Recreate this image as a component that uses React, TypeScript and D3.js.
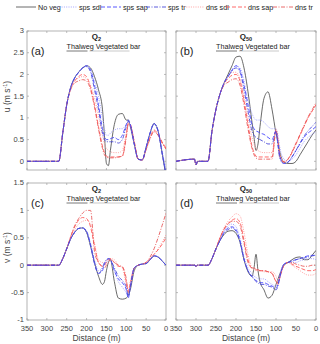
import React from "react";
import * as d3 from "d3";

const distances = [350, 304, 300, 296, 270, 260, 250, 240, 230, 220, 210, 200, 190, 180, 170, 160, 155, 150, 145, 140, 130, 120, 110, 100, 95, 90, 80, 70, 60, 50, 40, 30, 20, 10, 0];

const seriesNames = ["No veg", "sps sdl", "sps sap", "sps tr", "dns sdl", "dns sap", "dns tr"];
const xTicks = [350, 300, 250, 200, 150, 100, 50, 0];
const uTicks = [0, 0.5, 1, 1.5, 2, 2.5, 3];
const vTicks = [-1, -0.5, 0, 0.5, 1, 1.5];

// Panel (a): Q2, u
const aNoVeg = [0, 0, 0, 0, 0, 0.65, 1.3, 1.7, 1.92, 2.05, 2.15, 2.2, 2.15, 1.95, 1.65, 1.2, 0.6, -0.05, -0.1, 0.25, 0.85, 1.08, 1.1, 0.95, 0.95, 0.8, 0.4, 0.05, 0.03, 0.32, 0.65, 0.87, 0.7, 0.2, -0.35];
const aSpsSdl = [0, 0, 0, 0, 0, 0.65, 1.3, 1.7, 1.92, 2.05, 2.15, 2.2, 2.12, 1.85, 1.5, 1.0, 0.75, 0.6, 0.6, 0.65, 0.72, 0.75, 0.75, 0.85, 0.92, 0.82, 0.4, 0.05, 0.03, 0.32, 0.65, 0.85, 0.7, 0.25, -0.2];
const aSpsSap = [0, 0, 0, 0, 0, 0.65, 1.3, 1.7, 1.92, 2.05, 2.15, 2.2, 2.1, 1.75, 1.3, 0.75, 0.58, 0.5, 0.5, 0.52, 0.55, 0.5, 0.6, 0.85, 0.95, 0.85, 0.4, 0.05, 0.03, 0.33, 0.66, 0.87, 0.7, 0.2, -0.3];
const aSpsTr = [0, 0, 0, 0, 0, 0.65, 1.3, 1.7, 1.92, 2.05, 2.15, 2.18, 2.05, 1.65, 1.2, 0.65, 0.5, 0.45, 0.45, 0.45, 0.45, 0.42, 0.5, 0.8, 0.92, 0.85, 0.4, 0.05, 0.03, 0.32, 0.65, 0.86, 0.7, 0.2, -0.3];
const aDnsSdl = [0, 0, 0, 0, 0, 0.65, 1.3, 1.68, 1.85, 1.92, 1.95, 1.9, 1.75, 1.45, 1.05, 0.6, 0.4, 0.3, 0.25, 0.22, 0.2, 0.2, 0.25, 0.65, 0.85, 0.85, 0.45, 0.05, 0.03, 0.28, 0.55, 0.7, 0.6, 0.45, 0.3];
const aDnsSap = [0, 0, 0, 0, 0, 0.65, 1.3, 1.68, 1.85, 1.95, 2.0, 1.95, 1.7, 1.3, 0.8, 0.35, 0.2, 0.12, 0.1, 0.1, 0.1, 0.1, 0.12, 0.6, 0.88, 0.85, 0.45, 0.05, 0.03, 0.28, 0.55, 0.72, 0.62, 0.45, 0.3];
const aDnsTr = [0, 0, 0, 0, 0, 0.65, 1.3, 1.65, 1.8, 1.85, 1.88, 1.85, 1.65, 1.25, 0.75, 0.3, 0.15, 0.1, 0.08, 0.08, 0.08, 0.1, 0.12, 0.55, 0.85, 0.82, 0.45, 0.05, 0.03, 0.27, 0.52, 0.68, 0.6, 0.42, 0.28];

// Panel (b): Q50, u
const bNoVeg = [0, 0.05, -0.08, 0, 0, 0.7, 1.2, 1.55, 1.8, 2.0, 2.2, 2.4, 2.42, 2.15, 1.6, 0.9, 0.55, 0.25, 0.4, 0.8, 1.45, 1.6, 1.2, 0.65, 0.45, 0.2, -0.02, -0.05, -0.05, 0.0, 0.15, 0.3, 0.45, 0.6, 0.72];
const bSpsSdl = [0, 0.05, -0.08, 0, 0, 0.7, 1.2, 1.55, 1.8, 1.95, 2.1, 2.2, 2.15, 1.85, 1.4, 1.1, 1.0, 0.95, 0.95, 0.95, 0.9, 0.8, 0.75, 0.75, 0.6, 0.3, 0.05, 0.0, 0.05, 0.15, 0.3, 0.45, 0.55, 0.62, 0.68];
const bSpsSap = [0, 0.05, -0.08, 0, 0, 0.7, 1.2, 1.55, 1.8, 1.95, 2.1, 2.2, 2.1, 1.75, 1.3, 0.85, 0.75, 0.7, 0.68, 0.65, 0.62, 0.55, 0.5, 0.7, 0.4, 0.1, -0.05, -0.02, 0.1, 0.25, 0.4, 0.55, 0.65, 0.72, 0.8];
const bSpsTr = [0, 0.05, -0.08, 0, 0, 0.7, 1.2, 1.55, 1.8, 1.95, 2.08, 2.15, 2.05, 1.65, 1.15, 0.7, 0.6, 0.55, 0.52, 0.5, 0.45, 0.4, 0.4, 0.68, 0.35, 0.05, -0.05, -0.02, 0.1, 0.25, 0.42, 0.58, 0.7, 0.8, 0.9];
const bDnsSdl = [0, 0.05, -0.08, 0, 0, 0.7, 1.2, 1.55, 1.8, 1.95, 2.05, 2.05, 1.9, 1.5, 1.0, 0.55, 0.4, 0.3, 0.25, 0.22, 0.2, 0.2, 0.2, 0.75, 0.5, 0.15, 0.0, 0.05, 0.2, 0.4, 0.6, 0.8, 1.0, 1.15, 1.3];
const bDnsSap = [0, 0.05, -0.08, 0, 0, 0.7, 1.2, 1.55, 1.78, 1.9, 1.98, 2.0, 1.85, 1.4, 0.85, 0.35, 0.2, 0.12, 0.1, 0.1, 0.1, 0.1, 0.1, 0.72, 0.45, 0.1, -0.02, 0.05, 0.2, 0.4, 0.6, 0.8, 1.0, 1.15, 1.3];
const bDnsTr = [0, 0.05, -0.08, 0, 0, 0.7, 1.2, 1.55, 1.75, 1.82, 1.88, 1.9, 1.75, 1.3, 0.75, 0.3, 0.15, 0.08, 0.05, 0.05, 0.05, 0.05, 0.05, 0.7, 0.45, 0.1, -0.02, 0.05, 0.22, 0.42, 0.62, 0.82, 1.02, 1.18, 1.35];

// Panel (c): Q2, v
const cNoVeg = [0, 0, 0, 0, 0, 0.12, 0.3, 0.48, 0.6, 0.67, 0.68, 0.6, 0.35, 0.05, -0.2, -0.35, -0.3, -0.1, 0.05, 0.1, -0.3, -0.6, -0.62, -0.6, -0.55, -0.45, -0.1, 0.0, 0.02, 0.03, 0.1, 0.17, 0.15, 0.08, 0.0];
const cSpsSdl = [0, 0, 0, 0, 0, 0.12, 0.3, 0.48, 0.6, 0.67, 0.68, 0.62, 0.4, 0.1, -0.1, -0.05, 0.0, 0.05, 0.08, 0.1, -0.1, -0.3, -0.4, -0.5, -0.55, -0.35, -0.05, 0.0, 0.02, 0.03, 0.1, 0.17, 0.15, 0.08, 0.0];
const cSpsSap = [0, 0, 0, 0, 0, 0.12, 0.3, 0.48, 0.6, 0.67, 0.68, 0.62, 0.38, 0.05, -0.15, -0.1, 0.02, 0.08, 0.12, 0.1, -0.1, -0.25, -0.32, -0.45, -0.6, -0.4, -0.05, 0.0, 0.02, 0.03, 0.1, 0.17, 0.15, 0.08, 0.0];
const cSpsTr = [0, 0, 0, 0, 0, 0.12, 0.3, 0.48, 0.6, 0.67, 0.68, 0.6, 0.35, 0.02, -0.15, -0.05, 0.05, 0.1, 0.12, 0.1, -0.05, -0.2, -0.28, -0.4, -0.58, -0.42, -0.05, 0.0, 0.02, 0.03, 0.1, 0.17, 0.15, 0.08, 0.0];
const cDnsSdl = [0, 0, 0, 0, 0, 0.12, 0.3, 0.5, 0.65, 0.75, 0.8, 0.82, 0.75, 0.4, 0.1, 0.05, 0.05, 0.08, 0.1, 0.12, 0.1, 0.0, -0.05, -0.35, -0.45, -0.3, -0.05, 0.0, 0.02, 0.05, 0.12, 0.2, 0.3, 0.42, 0.55];
const cDnsSap = [0, 0, 0, 0, 0, 0.12, 0.3, 0.52, 0.7, 0.82, 0.87, 0.85, 0.7, 0.35, 0.05, -0.02, 0.0, 0.05, 0.1, 0.12, 0.05, -0.02, -0.03, -0.3, -0.48, -0.35, -0.05, 0.0, 0.02, 0.05, 0.12, 0.2, 0.28, 0.38, 0.5];
const cDnsTr = [0, 0, 0, 0, 0, 0.12, 0.3, 0.52, 0.72, 0.85, 0.95, 1.0, 1.0, 0.25, 0.05, -0.02, -0.05, 0.0, 0.05, 0.1, 0.05, 0.0, -0.03, -0.25, -0.5, -0.38, -0.05, 0.0, 0.02, 0.05, 0.15, 0.3, 0.5, 0.72, 0.95];

// Panel (d): Q50, v
const dNoVeg = [0, 0, -0.02, 0, 0, 0.12, 0.3, 0.45, 0.56, 0.62, 0.63, 0.58, 0.42, 0.1, -0.12, -0.2, -0.05, 0.2, -0.1, -0.3, -0.45, -0.6, -0.55, -0.35, -0.25, -0.15, 0.0, 0.05, 0.1, 0.14, 0.15, 0.1, 0.1, 0.18, 0.27];
const dSpsSdl = [0, 0, -0.02, 0, 0, 0.12, 0.3, 0.48, 0.62, 0.72, 0.75, 0.7, 0.5, 0.15, -0.05, -0.15, -0.2, -0.22, -0.25, -0.25, -0.25, -0.3, -0.35, -0.38, -0.3, -0.15, 0.02, 0.05, 0.05, 0.05, 0.08, 0.1, 0.12, 0.12, 0.1];
const dSpsSap = [0, 0, -0.02, 0, 0, 0.12, 0.3, 0.45, 0.6, 0.68, 0.7, 0.65, 0.45, 0.12, -0.1, -0.2, -0.25, -0.28, -0.3, -0.32, -0.32, -0.35, -0.38, -0.42, -0.35, -0.2, 0.02, 0.05, 0.08, 0.1, 0.12, 0.15, 0.17, 0.18, 0.18];
const dSpsTr = [0, 0, -0.02, 0, 0, 0.12, 0.3, 0.45, 0.58, 0.65, 0.68, 0.62, 0.42, 0.1, -0.1, -0.22, -0.25, -0.3, -0.32, -0.35, -0.35, -0.38, -0.4, -0.45, -0.38, -0.2, 0.02, 0.05, 0.07, 0.1, 0.12, 0.13, 0.15, 0.17, 0.18];
const dDnsSdl = [0, 0, -0.02, 0, 0, 0.12, 0.3, 0.5, 0.68, 0.8, 0.88, 0.94, 0.9, 0.6, 0.2, -0.05, -0.08, -0.1, -0.1, -0.1, -0.12, -0.12, -0.12, -0.2, -0.3, -0.2, 0.0, 0.05, 0.0, -0.05, -0.1, -0.15, -0.18, -0.18, -0.15];
const dDnsSap = [0, 0, -0.02, 0, 0, 0.12, 0.3, 0.5, 0.66, 0.76, 0.82, 0.85, 0.78, 0.45, 0.1, -0.05, -0.05, -0.08, -0.1, -0.1, -0.1, -0.12, -0.15, -0.3, -0.35, -0.22, 0.0, 0.05, 0.02, -0.02, -0.05, -0.08, -0.1, -0.1, -0.08];
const dDnsTr = [0, 0, -0.02, 0, 0, 0.12, 0.3, 0.5, 0.65, 0.75, 0.8, 0.8, 0.72, 0.4, 0.05, -0.05, -0.05, -0.08, -0.08, -0.1, -0.1, -0.12, -0.15, -0.3, -0.32, -0.2, 0.0, 0.05, 0.05, 0.02, 0.0, -0.02, -0.02, 0.0, 0.0];

const styles = [
  { color: "#444444", dash: "none", width: 0.8 },
  { color: "#9a9aff", dash: "1,1.3", width: 0.9 },
  { color: "#4646ff", dash: "4,2", width: 0.9 },
  { color: "#4a4ad8", dash: "4,1.5,1,1.5", width: 0.9 },
  { color: "#ff9a9a", dash: "1,1.3", width: 0.9 },
  { color: "#ff5a5a", dash: "4,2", width: 0.9 },
  { color: "#e85a5a", dash: "4,1.5,1,1.5", width: 0.9 },
];

const panels = [
  { id: "a", x0: 27, x1: 166, y0: 31, y1: 170, ymin: -0.2, ymax: 3, yTicks: uTicks, yLab: true, xLab: false, sub: "2", label: "(a)", series: [aNoVeg, aSpsSdl, aSpsSap, aSpsTr, aDnsSdl, aDnsSap, aDnsTr] },
  { id: "b", x0: 176, x1: 316, y0: 31, y1: 170, ymin: -0.2, ymax: 3, yTicks: uTicks, yLab: false, xLab: false, sub: "50", label: "(b)", series: [bNoVeg, bSpsSdl, bSpsSap, bSpsTr, bDnsSdl, bDnsSap, bDnsTr] },
  { id: "c", x0: 27, x1: 166, y0: 183, y1: 320, ymin: -1, ymax: 1.5, yTicks: vTicks, yLab: true, xLab: true, sub: "2", label: "(c)", series: [cNoVeg, cSpsSdl, cSpsSap, cSpsTr, cDnsSdl, cDnsSap, cDnsTr] },
  { id: "d", x0: 176, x1: 316, y0: 183, y1: 320, ymin: -1, ymax: 1.5, yTicks: vTicks, yLab: false, xLab: true, sub: "50", label: "(d)", series: [dNoVeg, dSpsSdl, dSpsSap, dSpsTr, dDnsSdl, dDnsSap, dDnsTr] },
];

const FONT = "'Liberation Sans', Arial, sans-serif";
const AX = "#a0a0a0";
const TXT = "#444";

function Panel({ p }: { p: any }) {
  const x = d3.scaleLinear().domain([350, 0]).range([p.x0, p.x1]);
  const y = d3.scaleLinear().domain([p.ymin, p.ymax]).range([p.y1, p.y0]);
  const line = d3
    .line<number>()
    .x((_, i) => x(distances[i]))
    .y((v) => y(v))
    .curve(d3.curveMonotoneX);
  const cx = (p.x0 + p.x1) / 2;
  const clipId = "clip-" + p.id;
  const order = [0, 1, 4, 5, 6, 2, 3];
  return (
    <g>
      <defs>
        <clipPath id={clipId}>
          <rect x={p.x0} y={p.y0} width={p.x1 - p.x0} height={p.y1 - p.y0} />
        </clipPath>
      </defs>
      <rect x={p.x0} y={p.y0} width={p.x1 - p.x0} height={p.y1 - p.y0} fill="#fff" stroke={AX} strokeWidth={0.8} />
      {xTicks.map((t) => (
        <g key={"xt" + t}>
          <line x1={x(t)} x2={x(t)} y1={p.y1} y2={p.y1 - 2} stroke={AX} strokeWidth={0.7} />
          <line x1={x(t)} x2={x(t)} y1={p.y0} y2={p.y0 + 2} stroke={AX} strokeWidth={0.7} />
          {p.xLab && (
            <text x={x(t)} y={p.y1 + 10.5} fontSize={7.5} textAnchor="middle" fill={TXT} fontFamily={FONT}>
              {t}
            </text>
          )}
        </g>
      ))}
      {p.yTicks.map((t: number) => (
        <g key={"yt" + t}>
          <line x1={p.x0} x2={p.x0 + 2} y1={y(t)} y2={y(t)} stroke={AX} strokeWidth={0.7} />
          <line x1={p.x1} x2={p.x1 - 2} y1={y(t)} y2={y(t)} stroke={AX} strokeWidth={0.7} />
          {p.yLab && (
            <text x={p.x0 - 3} y={y(t) + 2.4} fontSize={7.5} textAnchor="end" fill={TXT} fontFamily={FONT}>
              {t}
            </text>
          )}
        </g>
      ))}
      <g clipPath={`url(#${clipId})`}>
        {order.map((k) => (
          <path
            key={k}
            d={line(p.series[k]) || ""}
            fill="none"
            stroke={styles[k].color}
            strokeWidth={styles[k].width}
            strokeDasharray={styles[k].dash}
          />
        ))}
      </g>
      <text x={p.x0 + 4} y={p.y0 + 24} fontSize={11} fill="#222" fontFamily={FONT}>
        {p.label}
      </text>
      <text x={cx} y={p.y0 + 8} fontSize={8} fontWeight="bold" textAnchor="middle" fill="#222" fontFamily={FONT}>
        Q<tspan fontSize={5.5} dy={2}>{p.sub}</tspan>
      </text>
      <text x={cx - 30} y={p.y0 + 17.5} fontSize={7.2} fill="#222" fontFamily={FONT}>
        Thalweg Vegetated bar
      </text>
      <line x1={cx - 30} x2={cx - 9} y1={p.y0 + 20} y2={p.y0 + 20} stroke="#555" strokeWidth={0.8} />
      <line x1={cx - 7} x2={cx + 33} y1={p.y0 + 20} y2={p.y0 + 20} stroke="#bbb" strokeWidth={0.8} />
      {p.xLab && (
        <text x={cx} y={p.y1 + 20.5} fontSize={8.5} textAnchor="middle" fill={TXT} fontFamily={FONT}>
          Distance (m)
        </text>
      )}
      {p.yLab && (
        <text
          transform={`translate(${p.x0 - 17},${(p.y0 + p.y1) / 2 - 4}) rotate(-90)`}
          fontSize={8.5}
          textAnchor="middle"
          fill={TXT}
          fontFamily={FONT}
        >
          {p.id === "a" || p.id === "b" ? "u" : "v"} (m s<tspan fontSize={5.5} dy={-3}>-1</tspan>
          <tspan dy={3}>)</tspan>
        </text>
      )}
    </g>
  );
}

const legendX = [16, 57, 101, 146, 184, 226, 273];

export default function App() {
  return (
    <svg width={320} height={344} style={{ position: "absolute", left: 0, top: 0, background: "#fff" }}>
      <rect width={320} height={344} fill="#fff" />
      {seriesNames.map((n, i) => (
        <g key={n}>
          <line
            x1={legendX[i]}
            x2={legendX[i] + 20}
            y1={7}
            y2={7}
            stroke={styles[i].color}
            strokeWidth={styles[i].width}
            strokeDasharray={styles[i].dash}
          />
          <text x={legendX[i] + 22} y={9.5} fontSize={7.2} fill="#222" fontFamily={FONT}>
            {n}
          </text>
        </g>
      ))}
      {panels.map((p) => (
        <Panel key={p.id} p={p} />
      ))}
    </svg>
  );
}
